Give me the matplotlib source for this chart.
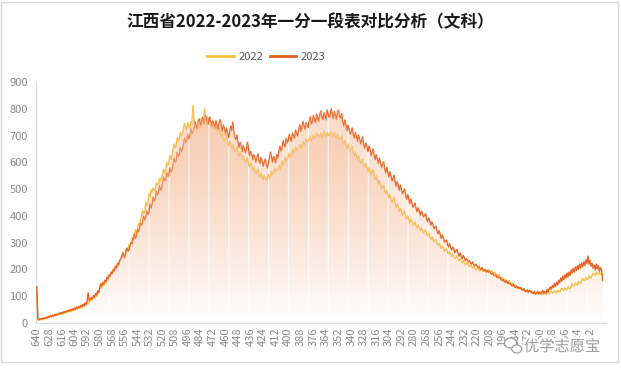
import numpy as np
import matplotlib
matplotlib.use('Agg')
import matplotlib.pyplot as plt
from matplotlib.colors import to_rgb
from matplotlib.lines import Line2D
from matplotlib.patches import Rectangle, Ellipse
import matplotlib.patheffects as pe

plt.rcParams['font.family'] = ['Noto Sans CJK SC', 'DejaVu Sans']

# 分数 640 -> 100, 每分一个点
scores = list(range(640, 99, -1))

y2022 = [
    110, 12, 10, 14, 12, 15, 13, 17, 15, 19,        # 640-631
    17, 22, 20, 24, 22, 27, 24, 29, 27, 31,
    29, 34, 32, 36, 34, 38, 36, 41, 38, 43,
    45, 41, 48, 44, 50, 46, 53, 49, 56, 52,
    58, 55, 62, 58, 66, 61, 71, 66, 76, 72,         # 600-591
    80, 84, 90, 86, 97, 93, 106, 100, 114, 110,
    125, 138, 132, 148, 140, 156, 150, 166, 160, 176,
    182, 190, 186, 200, 196, 212, 206, 224, 218, 234,
    240, 250, 262, 252, 258, 276, 268, 272, 292, 285,
    300, 318, 310, 325, 348, 335, 345, 372, 362, 385,
    398, 420, 408, 415, 452, 438, 448, 482, 470, 497,  # 540-531
    488, 505, 495, 500, 522, 515, 520, 540, 530, 545,
    552, 575, 560, 572, 600, 588, 598, 625, 610, 628,
    648, 668, 655, 662, 692, 680, 688, 712, 700, 708,
    728, 745, 730, 722, 748, 735, 728, 752, 742, 812,  # 500-491
    760, 745, 722, 740, 758, 735, 728, 765, 750, 742,
    800, 762, 745, 770, 752, 738, 755, 740, 728, 745,
    722, 738, 718, 710, 728, 712, 695, 708, 685, 680,
    690, 702, 675, 662, 680, 668, 650, 665, 655, 640,
    645, 658, 632, 622, 640, 628, 610, 625, 612, 598,
    605, 618, 592, 585, 598, 588, 570, 582, 572, 558,  # 440-431
    565, 575, 552, 545, 560, 548, 535, 550, 545, 532,
    545, 555, 538, 548, 568, 555, 562, 580, 565, 572,
    575, 590, 572, 585, 605, 590, 598, 618, 605, 612,
    620, 635, 618, 628, 648, 632, 640, 658, 645, 652,
    655, 668, 652, 660, 678, 665, 670, 688, 675, 682,
    685, 698, 680, 688, 702, 690, 695, 710, 698, 702,
    695, 710, 692, 700, 715, 702, 695, 712, 700, 705,
    702, 715, 695, 700, 712, 698, 688, 705, 692, 685,
    692, 700, 675, 668, 682, 665, 650, 668, 655, 638,
    650, 660, 635, 625, 640, 625, 608, 625, 612, 595,  # 340-331
    602, 612, 590, 580, 595, 582, 565, 580, 570, 552,
    565, 572, 548, 535, 550, 535, 518, 532, 520, 502,
    508, 515, 492, 482, 495, 482, 465, 480, 468, 450,
    460, 468, 445, 432, 445, 432, 415, 428, 418, 402,
    410, 418, 398, 388, 400, 388, 375, 388, 378, 365,
    372, 378, 362, 355, 365, 355, 345, 355, 348, 335,
    342, 348, 332, 325, 335, 325, 312, 322, 315, 302,
    306, 312, 298, 290, 298, 288, 278, 288, 280, 268,
    272, 278, 264, 258, 266, 258, 248, 256, 250, 240,
    246, 250, 238, 232, 240, 232, 224, 232, 226, 218,  # 240-231
    222, 226, 215, 210, 218, 210, 204, 212, 206, 198,
    202, 206, 198, 194, 202, 196, 192, 200, 196, 190,
    196, 200, 192, 188, 196, 190, 182, 190, 184, 175,
    178, 182, 170, 165, 172, 164, 156, 164, 158, 150,
    156, 158, 148, 142, 150, 142, 136, 142, 136, 128,
    132, 134, 126, 122, 128, 122, 116, 122, 118, 112,
    118, 120, 114, 110, 116, 112, 108, 114, 110, 106,
    112, 116, 110, 106, 114, 110, 106, 114, 110, 108,
    116, 120, 114, 112, 120, 116, 112, 122, 118, 116,
    124, 130, 124, 122, 132, 126, 124, 136, 130, 128,  # 140-131
    138, 146, 140, 138, 150, 144, 142, 156, 150, 148,
    158, 166, 160, 158, 170, 164, 162, 176, 170, 168,
    178, 186, 180, 178, 190, 184, 182, 190, 184, 180,
    178,
]

y2023 = [
    135, 15, 12, 16, 14, 18, 15, 20, 17, 22,        # 640-631
    19, 25, 22, 28, 24, 30, 26, 32, 29, 34,
    31, 36, 38, 34, 40, 37, 43, 39, 45, 42,
    48, 44, 50, 47, 53, 49, 56, 52, 60, 55,
    62, 58, 66, 61, 70, 64, 75, 70, 82, 112,        # 600-591
    84, 88, 95, 90, 102, 97, 110, 104, 120, 114,
    130, 146, 138, 152, 145, 160, 154, 172, 165, 180,
    175, 190, 184, 200, 194, 212, 205, 222, 216, 232,
    238, 246, 262, 250, 244, 266, 280, 268, 274, 292,
    300, 296, 318, 332, 315, 322, 348, 340, 352, 372,
    365, 378, 400, 385, 392, 418, 405, 412, 445, 430,  # 540-531
    442, 470, 455, 462, 492, 478, 486, 512, 495, 500,
    522, 545, 530, 535, 560, 548, 552, 580, 562, 570,
    592, 615, 600, 605, 638, 622, 628, 655, 640, 646,
    668, 690, 672, 678, 705, 688, 695, 725, 706, 712,  # 500-491
    728, 752, 735, 724, 748, 762, 742, 738, 768, 752,
    745, 775, 758, 740, 752, 770, 748, 732, 755, 742,
    728, 755, 738, 722, 745, 760, 735, 715, 740, 725,
    705, 728, 710, 692, 712, 735, 718, 750, 712, 692,
    685, 702, 670, 655, 675, 660, 640, 662, 650, 635,
    648, 675, 652, 625, 640, 632, 610, 628, 618, 600,  # 440-431
    615, 632, 608, 595, 618, 605, 585, 600, 612, 590,
    578, 598, 615, 638, 618, 600, 622, 612, 598, 628,
    615, 640, 660, 642, 650, 680, 665, 658, 690, 672,
    682, 705, 688, 678, 710, 698, 690, 720, 705, 698,
    725, 740, 715, 728, 752, 735, 722, 748, 740, 730,
    755, 770, 742, 750, 775, 758, 748, 780, 765, 752,
    778, 792, 765, 760, 785, 772, 758, 795, 780, 768,
    775, 800, 778, 762, 790, 775, 760, 788, 795, 770,
    765, 782, 748, 735, 758, 740, 718, 738, 725, 705,
    712, 728, 702, 690, 712, 695, 678, 702, 688, 668,  # 340-331
    680, 695, 665, 652, 672, 658, 640, 660, 648, 625,
    638, 650, 622, 610, 628, 612, 595, 615, 600, 580,
    592, 602, 575, 560, 580, 562, 545, 565, 548, 530,
    540, 552, 525, 510, 528, 512, 495, 515, 498, 482,
    492, 500, 475, 462, 480, 462, 445, 462, 448, 432,
    440, 448, 425, 415, 430, 418, 402, 418, 410, 396,
    402, 408, 388, 378, 392, 380, 365, 378, 368, 352,
    358, 362, 342, 332, 345, 330, 315, 328, 318, 302,
    306, 310, 292, 285, 296, 282, 272, 284, 276, 262,
    270, 275, 258, 250, 262, 250, 240, 252, 244, 232,  # 240-231
    240, 236, 228, 232, 224, 220, 228, 218, 214, 220,
    214, 208, 212, 204, 200, 206, 198, 194, 200, 190,
    196, 190, 194, 186, 182, 188, 178, 176, 180, 170,
    174, 168, 170, 162, 158, 164, 155, 152, 158, 148,
    152, 146, 148, 140, 138, 144, 135, 132, 138, 130,
    134, 128, 132, 125, 122, 128, 120, 118, 124, 116,
    122, 116, 120, 112, 110, 118, 108, 112, 118, 110,
    116, 108, 114, 122, 110, 118, 112, 126, 116, 128,
    134, 126, 140, 132, 148, 136, 152, 142, 160, 150,
    168, 156, 174, 162, 180, 168, 186, 172, 190, 178,  # 140-131
    198, 186, 204, 190, 210, 196, 214, 200, 220, 206,
    224, 210, 228, 214, 236, 222, 250, 220, 234, 212,
    222, 204, 216, 198, 220, 202, 214, 192, 206, 200,
    158,
]

xticks = list(range(640, 111, -12))
yticks = list(range(0, 901, 100))

c22 = '#F5C13C'
c23 = '#E85E1C'
fill_c = '#F6C0A0'

fig = plt.figure(figsize=(6.21, 3.72), dpi=100)
ax = fig.add_axes([0.0583, 0.1317, 0.9175, 0.6478])

ax.plot(scores, y2022, color=c22, lw=1.0, zorder=2)
ax.plot(scores, y2023, color=c23, lw=1.0, zorder=2.1)

# 渐变填充 (带白色竖缝)
gaps = list(range(628, 99, -19))


def grad_fill(x, y):
    poly = ax.fill_between(x, 0, y, facecolor='none', edgecolor='none', lw=0)
    path = poly.get_paths()[0]
    w, h = 2160, 200
    img = np.zeros((h, w, 4))
    img[..., :3] = to_rgb(fill_c)
    img[..., 3] = np.linspace(0, 0.6, h)[:, None]
    cols = 640 - (np.arange(w) + 0.5) * 540 / w
    for g in gaps:
        img[:, np.abs(cols - g) < 0.5, 3] = 0
    im = ax.imshow(img, extent=[640, 100, 0, 820], origin='lower',
                   aspect='auto', zorder=3, interpolation='bilinear')
    im.set_clip_path(path, ax.transData)


grad_fill(scores, y2022)
grad_fill(scores, y2023)

ax.set_xlim(640.6, 96.8)
ax.set_ylim(0, 900)
ax.set_xticks(xticks)
ax.set_xticklabels([str(t) for t in xticks], rotation=90)
ax.set_yticks(yticks)
ax.tick_params(length=0, colors='#8a8a8a', labelsize=8)
ax.tick_params(axis='y', pad=6)
ax.tick_params(axis='x', pad=3)
for s in ['top', 'right']:
    ax.spines[s].set_visible(False)
for s in ['left', 'bottom']:
    ax.spines[s].set_color('#d9d9d9')
    ax.spines[s].set_linewidth(0.8)
    ax.spines[s].set_zorder(1)

fig.text(0.5, 0.941, '江西省2022-2023年一分一段表对比分析（文科）',
         ha='center', va='center', fontsize=12, fontweight='bold', color='#1a1a1a')

handles = [Line2D([], [], color=c22, lw=2), Line2D([], [], color=c23, lw=2)]
fig.legend(handles, ['2022', '2023'], loc='center', bbox_to_anchor=(0.429, 0.847),
           ncol=2, frameon=False, fontsize=8, handlelength=2.4, handletextpad=0.4,
           columnspacing=0.6, labelcolor='#595959')

# 外框
fig.patches.append(Rectangle((1 / 621, 10 / 372), 617 / 621, 360 / 372,
                             transform=fig.transFigure, fill=False,
                             edgecolor='#d9d9d9', lw=1))

# 水印 (微信图标 + 文字)
for cx, cy, ew, eh in [(0.822, 0.078, 12, 10), (0.832, 0.062, 10, 8)]:
    fig.patches.append(Ellipse((cx, cy), ew / 621, eh / 372, transform=fig.transFigure,
                               facecolor='white', edgecolor='#a0a0a0', lw=0.9, zorder=10))
fig.text(0.905, 0.068, '优学志愿宝', ha='center', va='center', fontsize=11,
         color='#9b9b9b', zorder=10,
         path_effects=[pe.withStroke(linewidth=3, foreground='white')])

fig.savefig('out.png', dpi=100)
